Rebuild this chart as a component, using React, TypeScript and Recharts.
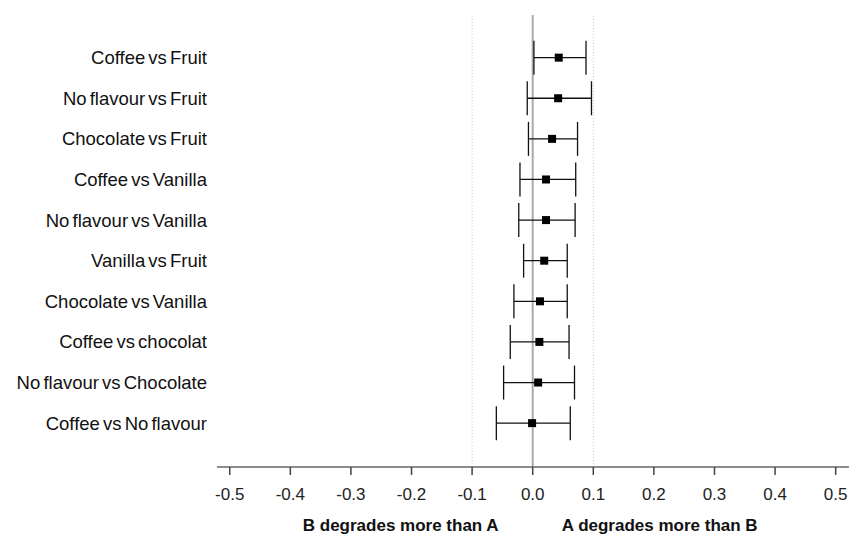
import { ScatterChart, Scatter, XAxis, YAxis, ZAxis, ErrorBar, ReferenceLine } from "recharts";

const comparisons = [
  "Coffee vs Fruit",
  "No flavour vs Fruit",
  "Chocolate vs Fruit",
  "Coffee vs Vanilla",
  "No flavour vs Vanilla",
  "Vanilla vs Fruit",
  "Chocolate vs Vanilla",
  "Coffee vs chocolat",
  "No flavour vs Chocolate",
  "Coffee vs No flavour",
];
const means = [0.043, 0.042, 0.032, 0.022, 0.022, 0.019, 0.012, 0.011, 0.009, -0.001];
const lowers = [0.002, -0.009, -0.007, -0.021, -0.023, -0.015, -0.031, -0.037, -0.048, -0.06];
const uppers = [0.088, 0.097, 0.074, 0.071, 0.07, 0.057, 0.057, 0.06, 0.069, 0.062];
const xTicks = [-0.5, -0.4, -0.3, -0.2, -0.1, 0, 0.1, 0.2, 0.3, 0.4, 0.5];

const FONT = '"Liberation Sans", Arial, sans-serif';
const X_DOMAIN: [number, number] = [-0.521, 0.522];

const rows = comparisons.map((name, i) => ({
  name,
  pos: i + 1,
  mean: means[i],
  err: [means[i] - lowers[i], uppers[i] - means[i]],
}));

// two captions under the x axis, either side of zero
function SideCaptions(props: any): React.JSX.Element {
  const vb = props.viewBox ?? { x: 0, y: 0, width: 0, height: 0 };
  const zeroX = vb.x + ((0 - X_DOMAIN[0]) / (X_DOMAIN[1] - X_DOMAIN[0])) * vb.width;
  const y = vb.y + 64;
  const style = { fontFamily: FONT, fontSize: 17, fontWeight: 700, fill: "#111" };
  return (
    <g>
      <text x={zeroX - 132} y={y} textAnchor="middle" style={style}>
        B degrades more than A
      </text>
      <text x={zeroX + 127} y={y} textAnchor="middle" style={style}>
        A degrades more than B
      </text>
    </g>
  );
}

export default function App(): React.JSX.Element {
  return (
    <div style={{ position: "absolute", left: 0, top: 0, background: "#fff" }}>
      <ScatterChart width={849} height={538} margin={{ top: 15, right: 0, bottom: 0, left: 0 }}>
        <XAxis
          type="number"
          dataKey="mean"
          domain={X_DOMAIN}
          ticks={xTicks}
          interval={0}
          allowDataOverflow
          tickFormatter={(v: number) => v.toFixed(1)}
          height={71}
          tickSize={8}
          tickMargin={13}
          axisLine={{ stroke: "#666", strokeWidth: 1.5 }}
          tickLine={{ stroke: "#444", strokeWidth: 1.5 }}
          tick={{ fontSize: 17, fontFamily: FONT, fill: "#222" }}
          label={<SideCaptions />}
        />
        <YAxis
          type="number"
          dataKey="pos"
          domain={[-0.05, 11.08]}
          reversed
          ticks={[1, 2, 3, 4, 5, 6, 7, 8, 9, 10]}
          interval={0}
          tickFormatter={(v: number) => comparisons[v - 1] ?? ""}
          width={217}
          tickSize={0}
          tickMargin={10}
          axisLine={false}
          tickLine={false}
          tick={{ fontSize: 18.5, fontFamily: FONT, fill: "#111", style: { wordSpacing: "-2px" } }}
        />
        <ZAxis range={[90, 90]} />
        <ReferenceLine x={-0.1} stroke="#9ccfe6" strokeDasharray="1 2" />
        <ReferenceLine x={0.1} stroke="#9ccfe6" strokeDasharray="1 2" />
        <ReferenceLine x={0} stroke="#aaa" strokeWidth={2} />
        <Scatter data={rows} fill="#000" shape="square" isAnimationActive={false}>
          <ErrorBar dataKey="err" direction="x" width={17} stroke="#111" strokeWidth={1.3} />
        </Scatter>
      </ScatterChart>
    </div>
  );
}
